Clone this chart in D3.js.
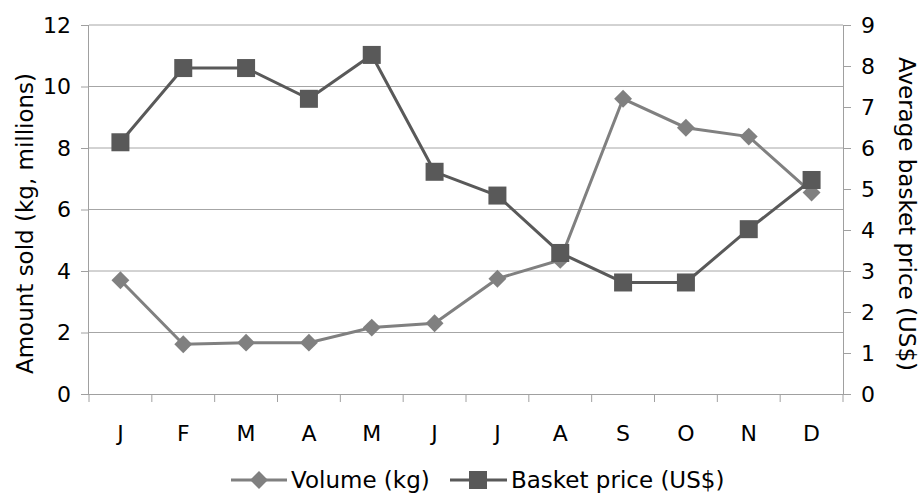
<!DOCTYPE html>
<html><head><meta charset="utf-8">
<script src="https://cdn.jsdelivr.net/npm/d3@7"></script>
<style>
html,body{margin:0;padding:0;background:#fff;}
svg text{font-family:"DejaVu Sans","Open Sans",sans-serif;fill:#000;}
</style></head>
<body><svg id="chart" width="922" height="493"></svg>
<script>
const months = ["J","F","M","A","M","J","J","A","S","O","N","D"];
const volume = [3.7,1.62,1.67,1.67,2.16,2.3,3.75,4.36,9.6,8.66,8.37,6.55];
const basketPrice = [6.14,7.95,7.95,7.2,8.27,5.42,4.84,3.44,2.72,2.72,4.02,5.22];
const leftTicks = [0,2,4,6,8,10,12];
const rightTicks = [0,1,2,3,4,5,6,7,8,9];

const svg = d3.select("#chart");
const L = 89, R = 843, T = 25, B = 394;
const idx = d3.range(months.length);
const x = d3.scaleBand().domain(idx).range([L, R]);
const yL = d3.scaleLinear().domain([0,12]).range([B, T]);
const yR = d3.scaleLinear().domain([0,9]).range([B, T]);
const fs = 22, fsT = 23;
const gridC = "#a6a6a6", axisC = "#a0a0a0";

// gridlines
svg.append("g").selectAll("line").data(leftTicks.filter(d=>d>0)).join("line")
  .attr("x1", L).attr("x2", R).attr("y1", d=>yL(d)).attr("y2", d=>yL(d))
  .attr("stroke", gridC).attr("stroke-width", 1);

// left axis
const gl = svg.append("g").attr("transform", `translate(${L},0)`)
  .call(d3.axisLeft(yL).tickValues(leftTicks).tickSize(8).tickPadding(10));
gl.select(".domain").attr("stroke", axisC).attr("d", `M-0.5,${T}V${B}`);
gl.selectAll(".tick line").attr("stroke", axisC);
gl.selectAll("text").attr("font-size", fs).attr("fill","#000").attr("font-family","DejaVu Sans");

// right axis
const gr = svg.append("g").attr("transform", `translate(${R},0)`)
  .call(d3.axisRight(yR).tickValues(rightTicks).tickSize(8).tickPadding(10));
gr.select(".domain").attr("stroke", axisC).attr("d", `M0.5,${T}V${B}`);
gr.selectAll(".tick line").attr("stroke", axisC);
gr.selectAll("text").attr("font-size", fs).attr("fill","#000").attr("font-family","DejaVu Sans");

// bottom axis
const gb = svg.append("g").attr("transform", `translate(0,${B})`);
gb.append("line").attr("x1", L-8).attr("x2", R+8).attr("y1",0.5).attr("y2",0.5).attr("stroke", axisC);
gb.selectAll("line.tk").data(d3.range(months.length+1)).join("line").attr("class","tk")
  .attr("x1", i=> i<months.length ? x(i) : R).attr("x2", i=> i<months.length ? x(i) : R)
  .attr("y1",0).attr("y2",8).attr("stroke", axisC);
gb.selectAll("text").data(idx).join("text")
  .attr("x", i=>x(i)+x.bandwidth()/2).attr("y", 46.5)
  .attr("text-anchor","middle").attr("font-size", fs).text(i=>months[i]);

// axis titles
svg.append("text").attr("transform", `translate(33,223.5) rotate(-90)`)
  .attr("text-anchor","middle").attr("font-size", fsT).text("Amount sold (kg, millions)");
svg.append("text").attr("transform", `translate(899,214) rotate(90)`)
  .attr("text-anchor","middle").attr("font-size", fsT).text("Average basket price (US$)");

const volC = "#808080", priceC = "#595959";
const cx = i => x(i)+x.bandwidth()/2;

// volume line
svg.append("path").datum(volume)
  .attr("d", d3.line().x((d,i)=>cx(i)).y(d=>yL(d)))
  .attr("fill","none").attr("stroke", volC).attr("stroke-width", 3);
svg.append("g").selectAll("path").data(volume).join("path")
  .attr("d", d3.symbol(d3.symbolSquare, 160))
  .attr("transform", (d,i)=>`translate(${cx(i)},${yL(d)}) rotate(45)`)
  .attr("fill", volC);

// price line
svg.append("path").datum(basketPrice)
  .attr("d", d3.line().x((d,i)=>cx(i)).y(d=>yR(d)))
  .attr("fill","none").attr("stroke", priceC).attr("stroke-width", 3);
svg.append("g").selectAll("rect").data(basketPrice).join("rect")
  .attr("x",(d,i)=>cx(i)-9).attr("y", d=>yR(d)-9).attr("width",18).attr("height",18)
  .attr("fill", priceC);

// legend
const lg = svg.append("g").attr("transform","translate(0,480)");
lg.append("line").attr("x1",231).attr("x2",287).attr("stroke",volC).attr("stroke-width",3);
lg.append("path").attr("d", d3.symbol(d3.symbolSquare, 160)).attr("transform","translate(259,0) rotate(45)").attr("fill",volC);
lg.append("text").attr("x",291).attr("y",8).attr("font-size",fsT).text("Volume (kg)");
lg.append("line").attr("x1",450).attr("x2",507).attr("stroke",priceC).attr("stroke-width",3);
lg.append("rect").attr("x",469).attr("y",-9).attr("width",18).attr("height",18).attr("fill",priceC);
lg.append("text").attr("x",511).attr("y",8).attr("font-size",fsT).text("Basket price (US$)");
</script></body></html>
